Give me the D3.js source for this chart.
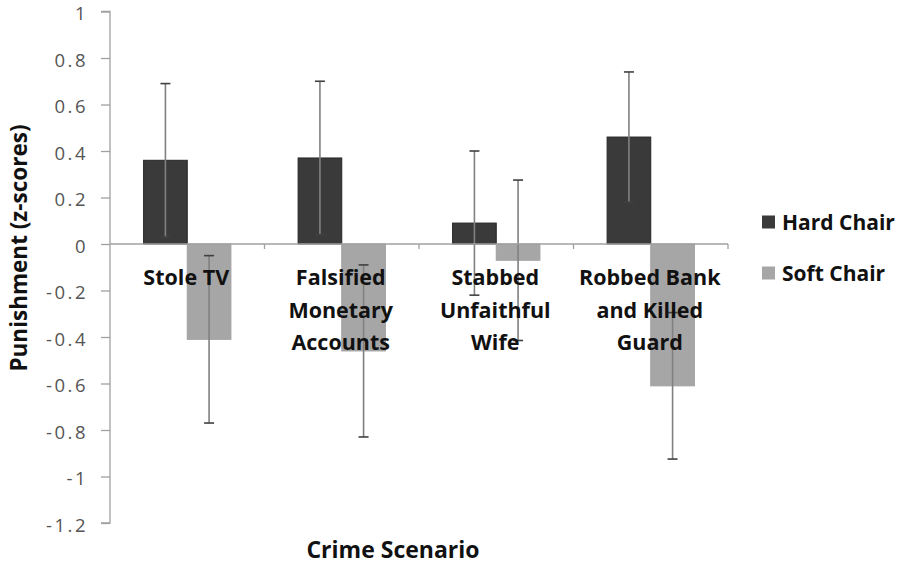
<!DOCTYPE html>
<html>
<head>
<meta charset="utf-8">
<script src="https://cdn.jsdelivr.net/npm/d3@7"></script>
<style>
  html, body { margin: 0; padding: 0; background: #fff; }
  svg { display: block; }
  text { font-family: "Open Sans", "DejaVu Sans", sans-serif; }
</style>
</head>
<body>
<svg id="chart" width="900" height="565"></svg>
<script>
// ---- data ----
const categories = [
  ["Stole TV"],
  ["Falsified", "Monetary", "Accounts"],
  ["Stabbed", "Unfaithful", "Wife"],
  ["Robbed Bank", "and Killed", "Guard"]
];
const categoryKeys = ["Stole TV", "Falsified Monetary Accounts", "Stabbed Unfaithful Wife", "Robbed Bank and Killed Guard"];
const seriesNames = ["Hard Chair", "Soft Chair"];
const hardChair = [0.36, 0.37, 0.09, 0.46];
const softChair = [-0.41, -0.46, -0.07, -0.61];
const hardError = [0.33, 0.33, 0.31, 0.28];
const softError = [0.36, 0.37, 0.345, 0.315];
const yTicks = [1, 0.8, 0.6, 0.4, 0.2, 0, -0.2, -0.4, -0.6, -0.8, -1, -1.2];
const yTickLabels = ["1", "0.8", "0.6", "0.4", "0.2", "0", "-0.2", "-0.4", "-0.6", "-0.8", "-1", "-1.2"];
const colors = ["#3a3a3a", "#a6a6a6"];

const seriesValues = [hardChair, softChair];
const seriesErrors = [hardError, softError];

const svg = d3.select("#chart");

const x0 = d3.scaleBand().domain(categoryKeys).range([110, 728])
  .paddingInner(0.435).paddingOuter(0.2175);
const x1 = d3.scaleBand().domain(seriesNames).range([0, x0.bandwidth()]);
const y = d3.scaleLinear().domain([-1.2, 1]).range([523, 11.5]);

// y axis
const yAxis = d3.axisLeft(y).tickValues(yTicks).tickSize(9).tickPadding(13)
  .tickFormat((d, i) => yTickLabels[i]);
const ya = svg.append("g").attr("transform", "translate(110,0)").call(yAxis);
ya.select(".domain").attr("stroke", "#a0a0a0").attr("stroke-width", 1.3).attr("d", `M-9,${y(1)}H0V${y(-1.2)}H-9`);
ya.selectAll(".tick line").attr("stroke", "#a0a0a0").attr("stroke-width", 1.3);
ya.selectAll(".tick text").attr("fill", "#555").attr("dy", "0.45em")
  .style("font-size", "18.5px")
  .style("letter-spacing", "2.5px")
  .style("font-family", "'Open Sans', sans-serif");

// bars
const groups = svg.append("g").selectAll("g").data(categoryKeys).join("g")
  .attr("transform", d => `translate(${x0(d)},0)`);

seriesNames.forEach((s, si) => {
  groups.append("rect")
    .attr("x", x1(s))
    .attr("width", x1.bandwidth())
    .attr("y", (d, i) => y(Math.max(0, seriesValues[si][i])))
    .attr("height", (d, i) => Math.abs(y(seriesValues[si][i]) - y(0)))
    .attr("fill", colors[si])
    .attr("stroke", si === 0 ? "#262626" : "#a0a0a0")
    .attr("stroke-width", 1);
});

// zero line and category ticks
svg.append("line").attr("x1", 110).attr("x2", 728).attr("y1", y(0)).attr("y2", y(0))
  .attr("stroke", "#a0a0a0").attr("stroke-width", 1.3);
const boundaries = categoryKeys.map(c => x0(c) + x0.bandwidth() + x0.step() * x0.paddingInner() / 2);
boundaries[boundaries.length - 1] = 728;
svg.append("g").selectAll("line").data(boundaries).join("line")
  .attr("x1", d => d).attr("x2", d => d)
  .attr("y1", y(0)).attr("y2", y(0) + 5)
  .attr("stroke", "#a0a0a0").attr("stroke-width", 1.3);

// category labels
const labels = svg.append("g").selectAll("text").data(categoryKeys).join("text")
  .attr("text-anchor", "middle")
  .attr("x", d => x0(d) + x0.bandwidth() / 2 - 1)
  .attr("y", 285)
  .attr("fill", "#111")
  .style("font-size", "21.5px").style("font-weight", "700");
labels.each(function(d, i) {
  const t = d3.select(this);
  categories[i].forEach((line, li) => {
    t.append("tspan").attr("x", x0(d) + x0.bandwidth() / 2 - 1).attr("dy", li === 0 ? 0 : 32.5).text(line);
  });
});

// error bars
seriesNames.forEach((s, si) => {
  const eg = groups.append("g");
  const cx = x1(s) + x1.bandwidth() / 2;
  eg.append("line")
    .attr("x1", cx).attr("x2", cx)
    .attr("y1", (d, i) => y(seriesValues[si][i] + seriesErrors[si][i]))
    .attr("y2", (d, i) => y(seriesValues[si][i] - seriesErrors[si][i]))
    .attr("stroke", "#808080").attr("stroke-width", 1.6);
  [1, -1].forEach(sign => {
    eg.append("line")
      .attr("x1", cx - 5).attr("x2", cx + 5)
      .attr("y1", (d, i) => y(seriesValues[si][i] + sign * seriesErrors[si][i]))
      .attr("y2", (d, i) => y(seriesValues[si][i] + sign * seriesErrors[si][i]))
      .attr("stroke", "#404040").attr("stroke-width", 1.6);
  });
});

// axis titles
svg.append("text").attr("x", 393).attr("y", 558).attr("text-anchor", "middle")
  .attr("fill", "#111").style("font-size", "23px").style("font-weight", "700")
  .text("Crime Scenario");
svg.append("text").attr("transform", "translate(27,248) rotate(-90)")
  .attr("text-anchor", "middle").attr("fill", "#111")
  .style("font-size", "22.5px").style("font-weight", "700")
  .text("Punishment (z-scores)");

// legend
const legend = svg.append("g").selectAll("g").data(seriesNames).join("g")
  .attr("transform", (d, i) => `translate(762,${222 + i * 51})`);
legend.append("rect").attr("x", 0).attr("y", -6.5).attr("width", 13).attr("height", 13)
  .attr("fill", (d, i) => colors[i]);
legend.append("text").attr("x", 20).attr("y", 7.5).attr("fill", "#111")
  .style("font-size", "21px").style("font-weight", "700").text(d => d);
</script>
</body>
</html>
